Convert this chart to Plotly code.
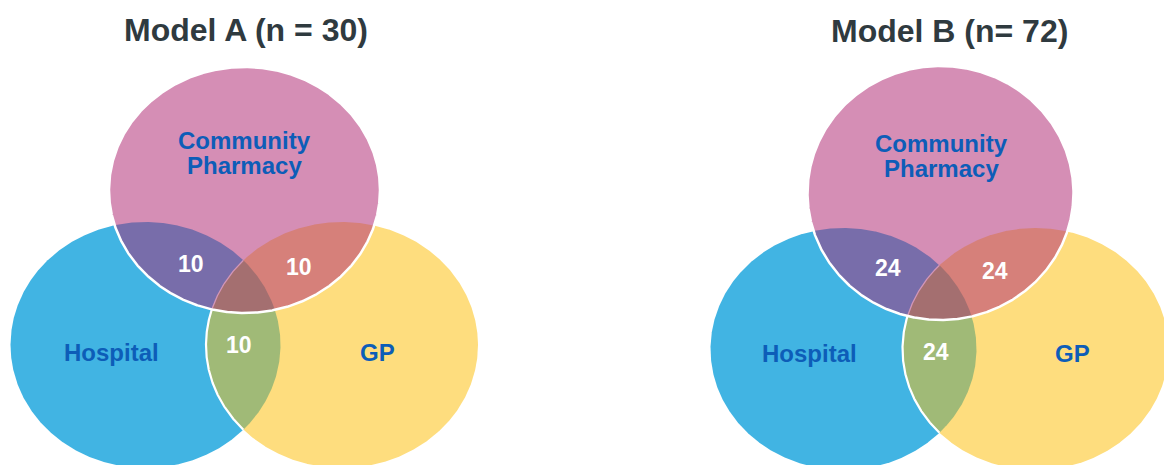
import numpy as np
import plotly.graph_objects as go

# ---------------- data ----------------
models = ["Model A", "Model B"]
model_n = [30, 72]
title_templates = ["{m} (n = {n})", "{m} (n= {n})"]
set_labels = ["Community Pharmacy", "Hospital", "GP"]
# overlap counts: Hospital∩Pharmacy, GP∩Pharmacy, Hospital∩GP
overlap_a = [10, 10, 10]
overlap_b = [24, 24, 24]
overlaps = [overlap_a, overlap_b]

# ---------------- styling / layout ----------------
W, H = 1164, 465
C_PINK = "#D58EB5"
C_BLUE = "#41B4E3"
C_YELLOW = "#FEDD7E"
C_PURPLE = "#786DAA"
C_SALMON = "#D6807A"
C_GREEN = "#A0BA77"
C_TRIPLE = "#A46F70"
C_LABEL = "#0D5DB8"
C_TITLE = "#2F3A3F"
FONT = "Liberation Sans, Arial, sans-serif"

# ellipse geometry per panel: (cx, cy, rx, ry) for pink, blue, yellow
geoms = [
    {"pink": (244.5, 190, 135.5, 123), "blue": (145.5, 345, 135, 123), "yellow": (342, 345, 136, 123),
     "title": (246, 30)},
    {"pink": (940.5, 193, 133, 127), "blue": (843.5, 349, 133, 121), "yellow": (1035.5, 349, 133, 121),
     "title": (949.5, 31)},
]
# label anchor positions (centre of first line) and line spacing
label_pos = [
    {"Community Pharmacy": (244.5, 140), "Hospital": (111, 352), "GP": (377, 352),
     "ov": [(191, 264), (299, 267), (239, 345)]},
    {"Community Pharmacy": (941, 143), "Hospital": (809, 353), "GP": (1072, 353),
     "ov": [(888, 268), (994.5, 271), (935.5, 352)]},
]
LINE_GAP = 25

N = 1440
T = np.linspace(0, 2 * np.pi, N, endpoint=False)


def pts(e):
    cx, cy, rx, ry = e
    return cx + rx * np.cos(T), cy + ry * np.sin(T)


def inside(e, x, y, tol=1e-9):
    cx, cy, rx, ry = e
    return ((x - cx) / rx) ** 2 + ((y - cy) / ry) ** 2 <= 1 + tol


def intersection(ells):
    xs, ys = [], []
    for i, e in enumerate(ells):
        x, y = pts(e)
        m = np.ones_like(x, dtype=bool)
        for j, f in enumerate(ells):
            if j != i:
                m &= inside(f, x, y)
        xs.append(x[m]); ys.append(y[m])
    x = np.concatenate(xs); y = np.concatenate(ys)
    mx, my = x.mean(), y.mean()
    order = np.argsort(np.arctan2(y - my, x - mx))
    x, y = x[order], y[order]
    return np.append(x, x[0]), np.append(y, y[0])


def segments(x, y, mask):
    xs, ys = [], []
    n = len(x)
    if mask.all():
        return list(np.append(x, x[0])), list(np.append(y, y[0]))
    start = int(np.argmin(mask))
    idx = [(start + k) % n for k in range(n)]
    cur = False
    for k in idx:
        if mask[k]:
            xs.append(x[k]); ys.append(y[k]); cur = True
        elif cur:
            xs.append(None); ys.append(None); cur = False
    return xs, ys


fig = go.Figure()


def fill(x, y, color):
    fig.add_trace(go.Scatter(x=list(x), y=list(y), mode="lines", fill="toself",
                             fillcolor=color, line=dict(width=0, color=color),
                             hoverinfo="skip", showlegend=False))


def line(x, y, color, width):
    fig.add_trace(go.Scatter(x=list(x), y=list(y), mode="lines",
                             line=dict(width=width, color=color),
                             hoverinfo="skip", showlegend=False))


annotations = []
for p, g in enumerate(geoms):
    pink, blue, yellow = g["pink"], g["blue"], g["yellow"]
    bx, by = pts(blue)
    fill(bx, by, C_BLUE)
    yx, yy = pts(yellow)
    fill(yx, yy, C_YELLOW)
    gx, gy = intersection([blue, yellow])
    fill(gx, gy, C_GREEN)
    in_b = inside(blue, yx, yy)
    in_p = inside(pink, yx, yy)
    sx, sy = segments(yx, yy, in_b & ~in_p)
    line(sx, sy, "white", 2.2)
    px, py = pts(pink)
    fill(px, py, C_PINK)
    ix, iy = intersection([blue, pink])
    fill(ix, iy, C_PURPLE)
    ix, iy = intersection([yellow, pink])
    fill(ix, iy, C_SALMON)
    ix, iy = intersection([blue, yellow, pink])
    fill(ix, iy, C_TRIPLE)
    sx, sy = segments(yx, yy, in_b & in_p)
    line(sx, sy, "#D296B8", 1.3)
    line(list(np.append(px, px[0])), list(np.append(py, py[0])), "white", 2.5)

    tx, ty = g["title"]
    annotations.append(dict(x=tx, y=ty, text=title_templates[p].format(m=models[p], n=model_n[p]),
                            showarrow=False, xref="x", yref="y",
                            font=dict(family=FONT, size=32, color=C_TITLE, weight="bold")))
    lp = label_pos[p]
    for lab in set_labels:
        lx, ly = lp[lab]
        for k, part in enumerate(lab.split(" ")):
            annotations.append(dict(x=lx, y=ly + k * LINE_GAP, text=part, showarrow=False,
                                    xref="x", yref="y",
                                    font=dict(family=FONT, size=24, color=C_LABEL, weight="bold")))
    for (ox, oy), v in zip(lp["ov"], overlaps[p]):
        annotations.append(dict(x=ox, y=oy, text=str(v), showarrow=False, xref="x", yref="y",
                                font=dict(family=FONT, size=23, color="white", weight="bold")))

fig.update_layout(
    width=W, height=H, margin=dict(l=0, r=0, t=0, b=0),
    paper_bgcolor="white", plot_bgcolor="white",
    xaxis=dict(range=[0, W], visible=False, fixedrange=True),
    yaxis=dict(range=[H, 0], visible=False, fixedrange=True),
    annotations=annotations, showlegend=False,
)

fig.write_html(
    "out.html",
    config={"displayModeBar": False},
    post_script="document.body.style.margin='0';document.body.style.overflow='hidden';",
)
